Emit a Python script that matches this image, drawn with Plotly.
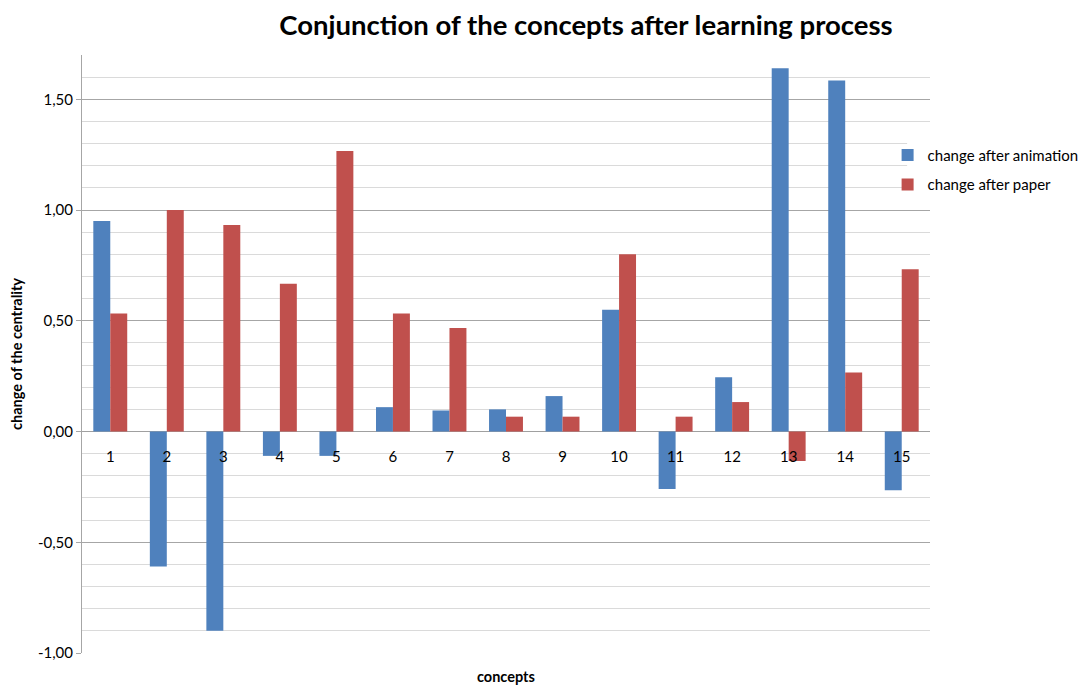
import plotly.graph_objects as go

categories = [str(i) for i in range(1, 16)]
change_after_animation = [0.95, -0.61, -0.90, -0.11, -0.11, 0.11, 0.095, 0.10, 0.16, 0.55, -0.26, 0.245, 1.64, 1.585, -0.265]
change_after_paper = [0.533, 1.0, 0.933, 0.667, 1.267, 0.533, 0.467, 0.067, 0.067, 0.80, 0.067, 0.133, -0.133, 0.267, 0.733]
y_tick_vals = [-1.0, -0.5, 0.0, 0.5, 1.0, 1.5]
y_tick_text = ["-1,00", "-0,50", "0,00", "0,50", "1,00", "1,50"]

FONT = "Lato, 'Open Sans', sans-serif"

fig = go.Figure()
fig.add_trace(go.Bar(x=categories, y=change_after_animation, name="change after animation",
                     marker=dict(color="#4F81BD", line=dict(width=0)), legendgroup="a"))
fig.add_trace(go.Bar(x=categories, y=change_after_paper, name="change after paper",
                     marker=dict(color="#C0504D", line=dict(width=0)), legendgroup="b"))

zero_pos = (0 - (-1.0)) / (1.7 - (-1.0))

fig.update_layout(
    width=1079, height=683,
    margin=dict(l=74, r=157, t=47, b=38, autoexpand=False),
    paper_bgcolor="white", plot_bgcolor="white",
    barmode="group", bargap=0.4, bargroupgap=0,
    font=dict(family=FONT, size=15, color="#000"),
    title=dict(text="<b>Conjunction of the concepts after learning process</b>",
               x=0.5357, xanchor="center", y=0.975, yanchor="middle", automargin=False,
               font=dict(family=FONT, size=27.5, color="#000")),
    showlegend=True,
    legend=dict(x=0.950, xanchor="left", y=0.86, yanchor="top",
                bgcolor="rgba(0,0,0,0)", font=dict(family=FONT, size=15, color="#000"),
                tracegroupgap=7, itemwidth=30),
    xaxis=dict(type="category", anchor="free", position=zero_pos, automargin=False,
               showline=False, showgrid=False, ticks="", ticklabelstandoff=14,
               tickfont=dict(family=FONT, size=15, color="#000")),
    yaxis=dict(range=[-1.0, 1.7], tickvals=y_tick_vals, ticktext=y_tick_text, automargin=False,
               showline=True, linecolor="#a6a6a6", linewidth=1,
               ticks="outside", ticklen=5, tickcolor="#a6a6a6",
               showgrid=True, gridcolor="#a6a6a6", gridwidth=1,
               zeroline=True, zerolinecolor="#a0a0a0", zerolinewidth=1,
               tickfont=dict(family=FONT, size=15, color="#000"),
               minor=dict(dtick=0.1, tick0=0, showgrid=True, gridcolor="#dadada", gridwidth=1, ticks=""),
               title=dict(text="<b>change of the centrality</b>", standoff=12,
                          font=dict(family=FONT, size=14.5, color="#000"))),
    shapes=[dict(type="rect", xref="paper", yref="paper", x0=0.973, x1=1.01, y0=0.758, y1=0.865,
                 fillcolor="white", line=dict(width=0), layer="above")],
    annotations=[dict(text="<b>concepts</b>", xref="paper", yref="paper", x=0.5, y=-0.022,
                      xanchor="center", yanchor="top", showarrow=False,
                      font=dict(family=FONT, size=14.5, color="#000"))],
)

fig.write_html("out.html")
